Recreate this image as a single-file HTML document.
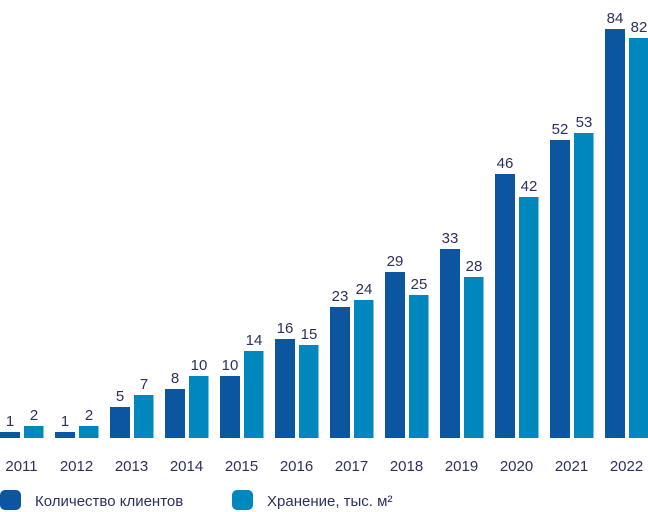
<!DOCTYPE html><html><head><meta charset="utf-8"><style>body{margin:0;background:#fff}svg{display:block}text{font-family:"Liberation Sans",sans-serif;fill:#2b3060}</style></head><body>
<svg width="648" height="512" viewBox="0 0 648 512" id="s"></svg>
<script>
var a=[1,1,5,8,10,16,23,29,33,46,52,84],b=[2,2,7,10,14,15,24,25,28,42,53,82];
var ta=[432,432,407,389,376,339,307,272,249,174,140,29],tb=[426,426,395,376,351,345,300,295,277,197,133,38],h='';
for(var i=0;i<12;i++){var x=i*55,y1=ta[i],y2=tb[i];
h+='<rect x="'+x+'" y="'+y1+'" width="20" height="'+(438-y1)+'" fill="#0c56a0"/>';
h+='<rect x="'+(x+24)+'" y="'+y2+'" width="19.5" height="'+(438-y2)+'" fill="#0087bd"/>';
h+='<text x="'+(x+10)+'" y="'+(y1-6)+'" font-size="15" text-anchor="middle">'+a[i]+'</text>';
h+='<text x="'+(x+34)+'" y="'+(y2-6)+'" font-size="15" text-anchor="middle">'+b[i]+'</text>';
h+='<text x="'+(x+21.5)+'" y="471" font-size="15" text-anchor="middle">'+(2011+i)+'</text>';}
h+='<rect x="0" y="490" width="21" height="20" rx="5" fill="#0c56a0"/><text x="35" y="506" font-size="15">Количество клиентов</text>';
h+='<rect x="232" y="490" width="21" height="20" rx="5" fill="#0087bd"/><text x="267" y="506" font-size="15">Хранение, тыс. м²</text>';
document.getElementById('s').innerHTML=h;
</script></body></html>
